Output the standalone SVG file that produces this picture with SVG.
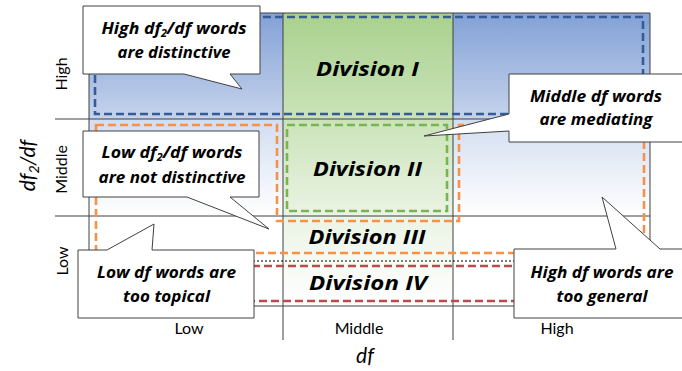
<svg xmlns="http://www.w3.org/2000/svg" width="682" height="371" viewBox="0 0 682 371">
<defs>
<linearGradient id="gHigh" gradientUnits="userSpaceOnUse" x1="0" y1="13" x2="0" y2="119">
<stop offset="0" stop-color="#82A1D6"/><stop offset="1" stop-color="#C6D3EC"/>
</linearGradient>
<linearGradient id="gMid" gradientUnits="userSpaceOnUse" x1="0" y1="119" x2="0" y2="216">
<stop offset="0" stop-color="#D2DDF1"/><stop offset="1" stop-color="#FFFFFF"/>
</linearGradient>
<linearGradient id="gGreen" gradientUnits="userSpaceOnUse" x1="0" y1="13" x2="0" y2="306">
<stop offset="0" stop-color="#A9D18E"/><stop offset="0.35" stop-color="#C9E2B7"/><stop offset="0.7" stop-color="#EBF4E5"/><stop offset="1" stop-color="#FFFFFF"/>
</linearGradient>
</defs>
<style>
.grid{stroke:#404040;stroke-width:1;fill:none}
.dash{fill:none;stroke-width:2.6;stroke-dasharray:8 4}
.callout{fill:#FFFFFF;stroke:#404040;stroke-width:1}
.ct{font-family:"Open Sans",Lato,sans-serif;font-weight:bold;font-style:italic;font-size:16.5px;fill:#000;text-anchor:middle}
.sub{font-size:10px}
.div{font-family:"Open Sans",Lato,sans-serif;font-weight:bold;font-style:italic;font-size:20px;fill:#000;text-anchor:middle}
.ax{font-family:Lato,"Open Sans",sans-serif;font-size:16px;fill:#000;text-anchor:middle}
.axt{font-family:Lato,"Open Sans",sans-serif;font-style:italic;font-size:21px;fill:#000;text-anchor:middle}
</style>
<g id="background">
<rect x="89" y="13" width="561" height="106" fill="url(#gHigh)"/>
<rect x="89" y="119" width="561" height="97" fill="url(#gMid)"/>
<rect x="283" y="13" width="170" height="293" fill="url(#gGreen)"/>
</g>
<g id="grid">
<path class="grid" d="M89,13 H650 V306 H89 Z"/>
<path class="grid" d="M283,13 V340 M453,13 V340"/>
<path class="grid" d="M55,119 H650 M55,216 H650"/>
<path d="M89,261 H650" stroke="#000" stroke-width="1" stroke-dasharray="2 2" fill="none"/>
</g>
<g id="regions">
<rect id="region-high" class="dash" stroke="#355C99" x="95" y="17" width="548" height="97"/>
<rect id="region-div2" class="dash" stroke="#7AB352" x="287" y="125" width="160" height="86"/>
<path id="region-low" class="dash" stroke="#F5924A" d="M96,125 H277 V221 H459 V125 H644 V253 H96 Z"/>
<rect id="region-div4" class="dash" stroke="#BA4C4B" x="96" y="266" width="548" height="35"/>
</g>
<g id="divisions">
<text class="div" x="367.5" y="76" textLength="103" lengthAdjust="spacingAndGlyphs">Division I</text>
<text class="div" x="367.5" y="176" textLength="109" lengthAdjust="spacingAndGlyphs">Division II</text>
<text class="div" x="367" y="244" textLength="117" lengthAdjust="spacingAndGlyphs">Division III</text>
<text class="div" x="368" y="290" textLength="118" lengthAdjust="spacingAndGlyphs">Division IV</text>
</g>
<g id="callout-high-df2">
<path class="callout" d="M83,6 H260 V74 H230 L242,89 L184,74 H83 Z"/>
<text class="ct" x="174" y="34" textLength="145" lengthAdjust="spacingAndGlyphs">High df<tspan class="sub" dy="3">2</tspan><tspan dy="-3">/df words</tspan></text>
<text class="ct" x="174" y="58" textLength="113" lengthAdjust="spacingAndGlyphs">are distinctive</text>
</g>
<g id="callout-middle-df">
<path class="callout" d="M509,74 H690 V142 H509 V131 L424,136 L509,114 Z"/>
<text class="ct" x="596" y="102" textLength="132" lengthAdjust="spacingAndGlyphs">Middle df words</text>
<text class="ct" x="596" y="125" textLength="113" lengthAdjust="spacingAndGlyphs">are mediating</text>
</g>
<g id="callout-low-df2">
<path class="callout" d="M83,131 H259 V197 H230 L269,229 L187,197 H83 Z"/>
<text class="ct" x="172" y="158" textLength="141" lengthAdjust="spacingAndGlyphs">Low df<tspan class="sub" dy="3">2</tspan><tspan dy="-3">/df words</tspan></text>
<text class="ct" x="172" y="183" textLength="147" lengthAdjust="spacingAndGlyphs">are not distinctive</text>
</g>
<g id="callout-low-df">
<path class="callout" d="M78,250 H107 L154,224 L152,250 H254 V318 H78 Z"/>
<text class="ct" x="166.5" y="277.5" textLength="139" lengthAdjust="spacingAndGlyphs">Low df words are</text>
<text class="ct" x="166.5" y="301.5" textLength="87" lengthAdjust="spacingAndGlyphs">too topical</text>
</g>
<g id="callout-high-df">
<path class="callout" d="M514,249 H616 L602,197 L660,249 H690 V318 H514 Z"/>
<text class="ct" x="602" y="277.5" textLength="143" lengthAdjust="spacingAndGlyphs">High df words are</text>
<text class="ct" x="602" y="301.5" textLength="91" lengthAdjust="spacingAndGlyphs">too general</text>
</g>
<g id="axis-labels">
<text class="ax" transform="translate(67,74) rotate(-90)">High</text>
<text class="ax" transform="translate(67,169.5) rotate(-90)">Middle</text>
<text class="ax" transform="translate(68,261) rotate(-90)">Low</text>
<text class="axt" transform="translate(35,165.5) rotate(-90)">df<tspan font-size="14" dy="4">2</tspan><tspan dy="-4">/df</tspan></text>
<text class="ax" x="189" y="334">Low</text>
<text class="ax" x="359" y="334">Middle</text>
<text class="ax" x="557" y="334">High</text>
<text class="axt" x="365" y="363">df</text>
</g>
</svg>
